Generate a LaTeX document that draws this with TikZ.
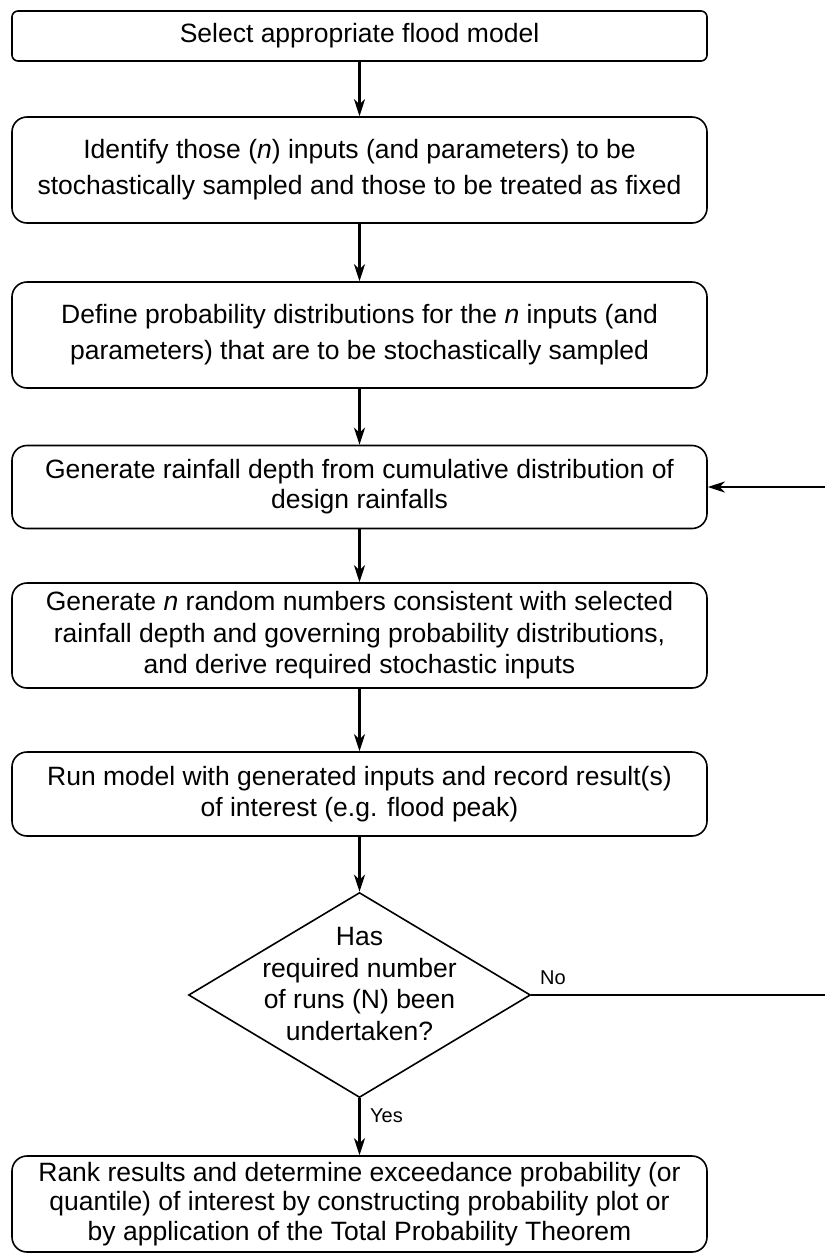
\documentclass[tikz,border=0pt]{standalone}
\usepackage{fontspec}
\setmainfont{Liberation Sans}
\usetikzlibrary{arrows.meta,shapes.geometric}
\begin{document}
\begin{tikzpicture}[x=1pt,y=-1pt,
  box/.style={draw, line width=1.6pt, rounded corners=15pt, minimum width=695pt, inner sep=0pt, align=center, font=\fontsize{26.5}{30}\selectfont},
  wide/.style={font=\fontsize{26.5}{36}\selectfont},
  arr/.style={line width=2.8pt, -{Stealth[length=17pt,width=11pt,inset=5pt]}},
  lbl/.style={font=\fontsize{20}{24}\selectfont, inner sep=0pt}]
\clip (0,0) rectangle (825,1254);
\fill[white] (0,0) rectangle (825,1254);
\node[box, rounded corners=6pt, minimum height=50pt] (b1) at (359.5,36) {Select appropriate flood model};
\node[box, wide, minimum height=106pt] (b2) at (359.5,170) {Identify those (\textit{n}) inputs (and parameters) to be\\stochastically sampled and those to be treated as fixed};
\node[box, wide, minimum height=106pt] (b3) at (359.5,335) {Define probability distributions for the \textit{n} inputs (and\\parameters) that are to be stochastically sampled};
\node[box, minimum height=83pt] (b4) at (359.5,487) {Generate rainfall depth from cumulative distribution of\\design rainfalls};
\node[box, font=\fontsize{26.5}{31.5}\selectfont, minimum height=105pt] (b5) at (359.5,635.5) {Generate \textit{n} random numbers consistent with selected\\rainfall depth and governing probability distributions,\\and derive required stochastic inputs};
\node[box, font=\fontsize{26.5}{31}\selectfont, minimum height=84pt] (b6) at (359.5,794) {Run model with generated inputs and record result(s)\\of interest (e.g. flood peak)};
\node[draw, diamond, line width=1.6pt, minimum width=342pt, minimum height=205pt, inner sep=0pt] (d) at (359.5,995) {};
\node[align=center, inner sep=0pt, font=\fontsize{26.5}{31.5}\selectfont] (dt) at (359.5,984) {Has\\required number\\of runs (N) been\\undertaken?};
\node[box, font=\fontsize{26.5}{29.5}\selectfont, minimum height=96pt] (b7) at (359.5,1204) {Rank results and determine exceedance probability (or\\quantile) of interest by constructing probability plot or\\by application of the Total Probability Theorem};
\draw[arr] (b1.south) -- (b2.north);
\draw[arr] (b2.south) -- (b3.north);
\draw[arr] (b3.south) -- (b4.north);
\draw[arr] (b4.south) -- (b5.north);
\draw[arr] (b5.south) -- (b6.north);
\draw[arr] (b6.south) -- (d.north);
\draw[arr] (d.south) -- (b7.north);
\coordinate (la) at (829,995);
\coordinate (lb) at (829,487);
\draw[line width=2.2pt] (d.east) -- (la);
\draw[arr] (la) -- (lb) -- (b4.east);
\node[lbl, anchor=west] (no) at (540,978) {No};
\node[lbl, anchor=west] (yes) at (370,1116) {Yes};
\end{tikzpicture}
\end{document}
